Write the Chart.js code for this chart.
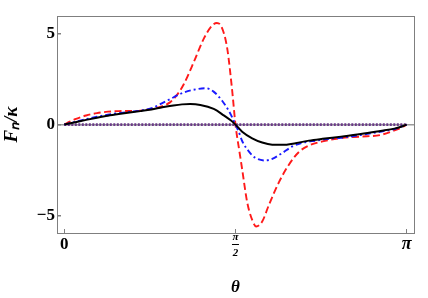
<!DOCTYPE html>
<html>
<head>
<meta charset="utf-8">
<script src="https://cdn.jsdelivr.net/npm/chart.js@4.4.1/dist/chart.umd.min.js"></script>
<style>
html,body{margin:0;padding:0;background:#fff;}
#wrap{width:428px;height:298px;}
</style>
</head>
<body>
<div id="wrap"><canvas id="c" width="428" height="298"></canvas></div>
<script>
const PI = Math.PI;
const xTickValues = [0, PI / 2, PI];
const xTickLabels = ["0", ["π", "2"], "π"];
const yTickValues = [-5, 0, 5];
const yTickLabels = ["−5", "0", "5"];

const thetaBlack = [0, 0.1, 0.2, 0.3, 0.4, 0.5, 0.6, 0.7, 0.8, 0.9, 1.0, 1.08, 1.156, 1.248, 1.371, 1.463, 1.53, 1.5708, 1.632, 1.724, 1.816, 1.908, 2.0, 2.122, 2.245, 2.37, 2.54, 2.72, 2.9, 3.03, 3.09, PI];
const black = [0, 0.13, 0.26, 0.38, 0.49, 0.58, 0.66, 0.74, 0.83, 0.95, 1.05, 1.11, 1.13, 1.08, 0.86, 0.51, 0.22, 0, -0.39, -0.75, -0.98, -1.1, -1.11, -1.02, -0.88, -0.78, -0.66, -0.52, -0.35, -0.22, -0.12, 0];

const thetaBlue = [0, 0.05, 0.1, 0.2, 0.3, 0.4, 0.5, 0.6, 0.7, 0.8, 0.88, 0.97, 1.095, 1.22, 1.295, 1.37, 1.448, 1.524, 1.5708, 1.601, 1.632, 1.693, 1.754, 1.846, 1.908, 2.0, 2.092, 2.184, 2.306, 2.4, 2.54, 2.72, 2.9, 3.03, 3.09, PI];
const blue = [0, 0.08, 0.15, 0.3, 0.43, 0.55, 0.63, 0.7, 0.77, 0.9, 1.12, 1.40, 1.76, 1.95, 2.0, 1.81, 1.31, 0.6, 0, -0.4, -0.9, -1.47, -1.83, -1.97, -1.88, -1.56, -1.2, -1.0, -0.88, -0.8, -0.72, -0.57, -0.39, -0.24, -0.12, 0];

const thetaRed = [0, 0.05, 0.1, 0.2, 0.3, 0.4, 0.5, 0.6, 0.7, 0.8, 0.9, 0.97, 1.03, 1.095, 1.19, 1.28, 1.355, 1.40, 1.445, 1.495, 1.54, 1.5708, 1.605, 1.632, 1.678, 1.724, 1.761, 1.816, 1.877, 1.969, 2.061, 2.153, 2.245, 2.37, 2.54, 2.72, 2.9, 3.03, 3.09, PI];
const red = [0, 0.16, 0.3, 0.5, 0.63, 0.71, 0.74, 0.75, 0.77, 0.86, 1.02, 1.22, 1.6, 2.2, 3.46, 4.72, 5.43, 5.58, 5.34, 4.18, 1.9, 0, -1.4, -2.45, -4.25, -5.23, -5.59, -5.32, -4.42, -3.17, -2.2, -1.5, -1.15, -0.92, -0.74, -0.66, -0.57, -0.32, -0.17, 0];

const thetaZero = [0, PI];
const zero = [0, 0];

function pts(xs, ys) { return xs.map((x, i) => ({ x: x, y: ys[i] })); }

const serif = "'Liberation Serif', 'Times New Roman', serif";
const frameColor = '#7f7f7f';

const framePlugin = {
  id: 'frame',
  afterDraw(chart) {
    const { ctx, chartArea: a } = chart;
    ctx.save();
    ctx.strokeStyle = frameColor;
    ctx.lineWidth = 1;
    ctx.strokeRect(Math.round(a.left) + 0.5, Math.round(a.top) + 0.5, Math.round(a.right - a.left), Math.round(a.bottom - a.top));
    const xs = chart.scales.x;
    const px = xs.getPixelForValue(PI / 2);
    ctx.strokeStyle = '#000';
    ctx.lineWidth = 1;
    ctx.beginPath();
    ctx.moveTo(px - 3.5, 244.5);
    ctx.lineTo(px + 3.5, 244.5);
    ctx.stroke();
    ctx.restore();
  }
};

new Chart(document.getElementById('c'), {
  type: 'line',
  data: {
    datasets: [
      { data: pts(thetaZero, zero), borderColor: '#6a3a88', borderWidth: 2.6, borderDash: [2, 1.5], pointRadius: 0, order: 4 },
      { data: pts(thetaRed, red), borderColor: '#ff1a1a', borderWidth: 1.9, borderDash: [7, 3.5], pointRadius: 0, cubicInterpolationMode: 'monotone', order: 3 },
      { data: pts(thetaBlue, blue), borderColor: '#1a1aff', borderWidth: 1.9, borderDash: [6, 3, 2, 3], pointRadius: 0, cubicInterpolationMode: 'monotone', order: 2 },
      { data: pts(thetaBlack, black), borderColor: '#000000', borderWidth: 2, pointRadius: 0, cubicInterpolationMode: 'monotone', order: 1 }
    ]
  },
  options: {
    responsive: false,
    animation: false,
    events: [],
    layout: { padding: { top: 12, right: 14, left: 0, bottom: 0 } },
    plugins: { legend: { display: false }, tooltip: { enabled: false } },
    scales: {
      x: {
        type: 'linear',
        min: -0.067,
        max: 3.209,
        afterBuildTicks(s) { s.ticks = xTickValues.map(v => ({ value: v })); },
        afterFit(s) { s.height = 65; },
        ticks: {
          color: '#000',
          padding: 0,
          maxRotation: 0,
          autoSkip: false,
          callback(v, i) { return xTickLabels[i]; },
          font(ctx) {
            if (ctx.index === 1) return { family: serif, size: 11, weight: 'bold', style: 'italic', lineHeight: 1.45 };
            if (ctx.index === 2) return { family: serif, size: 18, weight: 'bold', style: 'italic', lineHeight: 1.75 };
            return { family: serif, size: 17, weight: 'bold', lineHeight: 1.85 };
          }
        },
        grid: { drawOnChartArea: false, tickLength: -4, tickColor: frameColor, color: frameColor },
        border: { color: frameColor },
        title: { display: true, text: 'θ', color: '#000', padding: { top: 0, bottom: 0 }, font: { family: serif, size: 17, weight: 'bold', style: 'italic' } }
      },
      y: {
        type: 'linear',
        min: -5.95,
        max: 5.95,
        afterBuildTicks(s) { s.ticks = yTickValues.map(v => ({ value: v })); },
        afterFit(s) { s.width = 57; },
        ticks: {
          color: '#000',
          padding: 6,
          callback(v, i) { return yTickLabels[i]; },
          font: { family: serif, size: 17, weight: 'bold' }
        },
        grid: {
          tickLength: -4,
          tickColor: frameColor,
          color(ctx) { return (ctx.tick && ctx.tick.value === 0) ? '#9a9a9a' : 'rgba(0,0,0,0)'; },
          lineWidth: 1.5
        },
        border: { color: frameColor },
        title: { display: true, text: 'Fₙ/κ', color: '#000', padding: { top: 1, bottom: 0 }, font: { family: serif, size: 19, weight: 'bold', style: 'italic' } }
      }
    }
  },
  plugins: [framePlugin]
});
</script>
</body>
</html>
